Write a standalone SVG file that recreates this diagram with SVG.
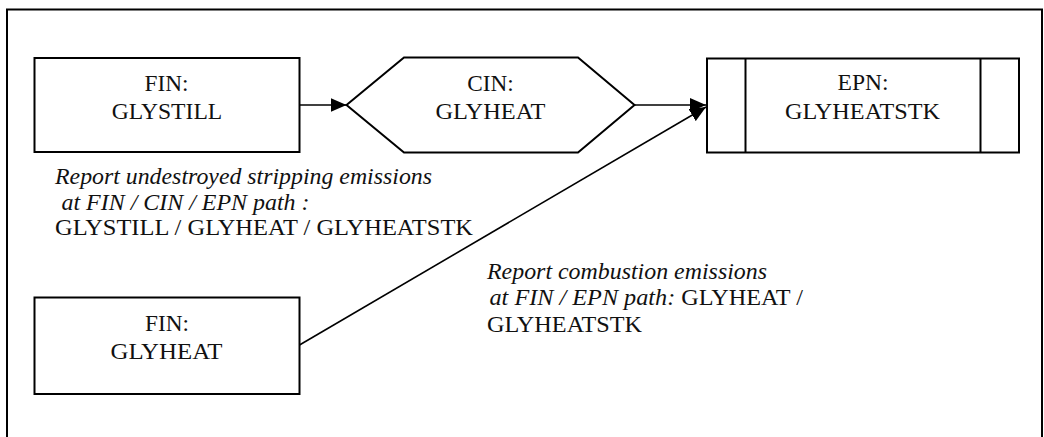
<svg xmlns="http://www.w3.org/2000/svg" width="1044" height="437" viewBox="0 0 1044 437">
  <style>
    .box { fill: #ffffff; stroke: #000000; stroke-width: 2; }
    .t { font-family: "Liberation Serif", "Times New Roman", serif; font-size: 23.2px; fill: #111111; }
    .n { font-size: 23.6px; }
    .c { text-anchor: middle; }
    .i { font-style: italic; }
    .conn { stroke: #000000; stroke-width: 1.6; fill: none; }
  </style>
  <defs>
    <marker id="arrow" markerUnits="userSpaceOnUse" markerWidth="16" markerHeight="14" refX="16" refY="7" orient="auto">
      <path d="M0,0 L16,7 L0,14 z" fill="#000000"/>
    </marker>
  </defs>
  <rect width="1044" height="437" fill="#ffffff"/>
  <path d="M7,440 V9.5 H1042 V440" fill="none" stroke="#000000" stroke-width="2"/>

  <g id="fin-glystill">
    <rect class="box" x="34.5" y="58" width="265" height="94"/>
    <text class="t c" x="166.5" y="90.5" textLength="44" lengthAdjust="spacingAndGlyphs">FIN:</text>
    <text class="t c" x="167" y="119" textLength="110.5" lengthAdjust="spacingAndGlyphs">GLYSTILL</text>
  </g>

  <g id="cin-glyheat">
    <polygon class="box" points="346.5,105 404,57.5 578,57.5 634.5,105 578,152.5 404,152.5" stroke-width="1.6"/>
    <text class="t c" x="490.5" y="90.5" textLength="46.5" lengthAdjust="spacingAndGlyphs">CIN:</text>
    <text class="t c" x="490.5" y="118.5" textLength="110" lengthAdjust="spacingAndGlyphs">GLYHEAT</text>
  </g>

  <g id="epn-glyheatstk">
    <rect class="box" x="707" y="58.5" width="312" height="94"/>
    <line x1="745.5" y1="58.5" x2="745.5" y2="152.5" stroke="#000000" stroke-width="2"/>
    <line x1="980.5" y1="58.5" x2="980.5" y2="152.5" stroke="#000000" stroke-width="2"/>
    <text class="t c" x="863" y="90" textLength="51" lengthAdjust="spacingAndGlyphs">EPN:</text>
    <text class="t c" x="862.5" y="118.5" textLength="155" lengthAdjust="spacingAndGlyphs">GLYHEATSTK</text>
  </g>

  <g id="fin-glyheat">
    <rect class="box" x="34.5" y="297.5" width="265" height="96.5"/>
    <text class="t c" x="167" y="331" textLength="44" lengthAdjust="spacingAndGlyphs">FIN:</text>
    <text class="t c" x="166.5" y="358.5" textLength="112" lengthAdjust="spacingAndGlyphs">GLYHEAT</text>
  </g>

  <g id="connectors">
    <line class="conn" x1="299.5" y1="105" x2="346.5" y2="105" marker-end="url(#arrow)"/>
    <line class="conn" x1="634.5" y1="105" x2="706" y2="105" marker-end="url(#arrow)"/>
    <line class="conn" x1="299.5" y1="345" x2="706" y2="107" marker-end="url(#arrow)"/>
  </g>

  <g id="note-stripping">
    <text class="t n i" x="55" y="183.5" textLength="377" lengthAdjust="spacingAndGlyphs">Report undestroyed stripping emissions</text>
    <text class="t n i" x="61.5" y="209.5" textLength="248" lengthAdjust="spacingAndGlyphs">at FIN / CIN / EPN path :</text>
    <text class="t n" x="55" y="235" textLength="418" lengthAdjust="spacingAndGlyphs">GLYSTILL / GLYHEAT / GLYHEATSTK</text>
  </g>

  <g id="note-combustion">
    <text class="t n i" x="487" y="278.5" textLength="280" lengthAdjust="spacingAndGlyphs">Report combustion emissions</text>
    <text class="t n" x="489.5" y="305" textLength="313.5" lengthAdjust="spacingAndGlyphs"><tspan class="i">at FIN / EPN path:</tspan> GLYHEAT /</text>
    <text class="t n" x="487" y="331.5" textLength="155" lengthAdjust="spacingAndGlyphs">GLYHEATSTK</text>
  </g>
</svg>
